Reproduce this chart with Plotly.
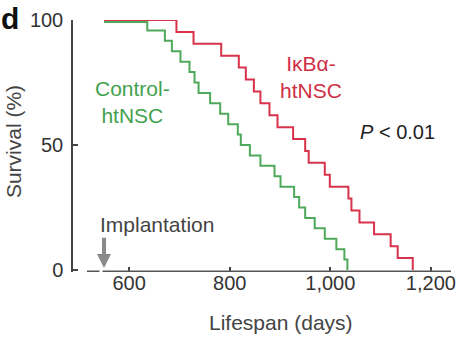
import plotly.graph_objects as go

# ---- data ----
start_day = 550
control_start = 99.2
control_days = [636, 671, 685, 702, 720, 730, 738, 761, 781, 797, 816, 822,
                840, 861, 889, 901, 928, 938, 950, 969, 989, 1012, 1028, 1034]
control_surv = [95.8, 91.7, 87.5, 83.3, 79.2, 75.0, 70.8, 66.7, 62.5, 58.3, 54.2, 50.0,
                45.8, 41.7, 37.5, 33.3, 29.2, 25.0, 20.8, 16.7, 12.5, 8.3, 4.2, 0.0]
ikba_start = 100
ikba_days = [694, 728, 783, 818, 832, 848, 861, 879, 895, 926, 950, 957,
             989, 999, 1036, 1042, 1058, 1087, 1120, 1134, 1164]
ikba_surv = [95.2, 90.5, 85.7, 81.0, 76.2, 71.4, 66.7, 61.9, 57.1, 52.4, 47.6, 42.9,
             38.1, 33.3, 28.6, 23.8, 19.0, 14.3, 9.5, 4.8, 0.0]
x_tickvals = [600, 800, 1000, 1200]
x_ticktext = ["600", "800", "1,000", "1,200"]
y_tickvals = [0, 50, 100]
y_ticktext = ["0", "50", "100"]

GREEN = "#4fa95a"
GREEN_TXT = "#43a24f"
RED = "#d8334b"
RED_TXT = "#cf2f45"
FONT = "Liberation Sans, Arial, Helvetica, sans-serif"

fig = go.Figure()
fig.add_trace(go.Scatter(x=[start_day] + control_days, y=[control_start] + control_surv,
                         mode="lines", line=dict(color=GREEN, width=2, shape="hv"),
                         cliponaxis=False, showlegend=False))
fig.add_trace(go.Scatter(x=[start_day] + ikba_days, y=[ikba_start] + ikba_surv,
                         mode="lines", line=dict(color=RED, width=2, shape="hv"),
                         cliponaxis=False, showlegend=False))

XMIN, XMAX = 488.3, 1240
YMIN, YMAX = -0.8, 100

fig.update_layout(
    width=465, height=337,
    margin=dict(l=73, r=9, t=17, b=65),
    paper_bgcolor="white", plot_bgcolor="white",
    font=dict(family=FONT, size=20, color="#333"),
    xaxis=dict(range=[XMIN, XMAX], showgrid=False, zeroline=False, showline=False,
               ticks="inside", ticklen=5, tickwidth=1.5, tickcolor="#444",
               tickvals=x_tickvals, ticktext=x_ticktext, ticklabelstandoff=-3,
               tickfont=dict(size=20, color="#333")),
    yaxis=dict(range=[YMIN, YMAX], showgrid=False, zeroline=False, showline=True,
               linecolor="#444", linewidth=1.5,
               ticks="inside", ticklen=5, tickwidth=1.5, tickcolor="#444",
               tickvals=y_tickvals, ticktext=y_ticktext, ticklabelstandoff=4,
               tickfont=dict(size=20, color="#333")),
)

# broken x-axis line
fig.add_shape(type="line", xref="x", yref="y", x0=547, x1=XMAX, y0=-0.7, y1=-0.7,
              line=dict(color="#555", width=2.5))
fig.add_shape(type="line", xref="x", yref="y", x0=516, x1=541, y0=-0.7, y1=-0.7,
              line=dict(color="#555", width=2.5))

# implantation arrow
fig.add_annotation(x=start_day, y=0.8, ax=start_day, ay=13.5, xref="x", yref="y",
                   axref="x", ayref="y", text="", showarrow=True,
                   arrowhead=2, arrowsize=0.7, arrowwidth=4, arrowcolor="#8a8a8a")
fig.add_annotation(x=655, y=18.2, xref="x", yref="y", text="Implantation",
                   showarrow=False, font=dict(size=21, color="#444"))

fig.add_annotation(x=606, y=67.2, xref="x", yref="y", text="Control-<br>htNSC",
                   showarrow=False, font=dict(size=21, color=GREEN_TXT))
fig.add_annotation(x=961, y=77.1, xref="x", yref="y", text="IκBα-<br>htNSC",
                   showarrow=False, font=dict(size=21, color=RED_TXT))
fig.add_annotation(x=1134, y=55.3, xref="x", yref="y", text="<i>P</i> &lt; 0.01",
                   showarrow=False, font=dict(size=20, color="#222"))

# panel letter and axis titles
fig.add_annotation(x=-0.166, y=1.004, xref="paper", yref="paper", text="<b>d</b>",
                   xanchor="center", yanchor="middle",
                   showarrow=False, font=dict(size=30, color="#111"))
fig.add_annotation(x=-0.157, y=0.518, xref="paper", yref="paper", text="Survival (%)",
                   xanchor="center", yanchor="middle",
                   textangle=-90, showarrow=False, font=dict(size=21, color="#444"))
fig.add_annotation(x=902, y=-0.2, xref="x", yref="paper", text="Lifespan (days)",
                   xanchor="center", yanchor="middle",
                   showarrow=False, font=dict(size=21, color="#444"))

fig.write_html("out.html")
